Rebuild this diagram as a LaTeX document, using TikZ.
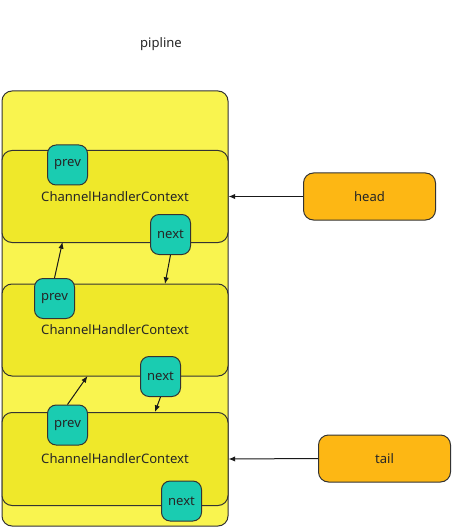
\documentclass[tikz,border=0pt]{standalone}
\usepackage{fontspec}
\setmainfont{Noto Sans}
\usetikzlibrary{arrows.meta}
\definecolor{outerY}{HTML}{F9F44F}
\definecolor{ctxY}{HTML}{EFE82A}
\definecolor{tealc}{HTML}{1ACCB1}
\definecolor{orangec}{HTML}{FDB714}
\definecolor{edgec}{HTML}{333333}
\begin{document}
\begin{tikzpicture}[x=0.75pt,y=-0.75pt,
  every node/.style={font=\fontsize{9.8}{11}\selectfont, text=black!85},
  outerbox/.style={draw=edgec, line width=0.75pt, fill=outerY, rounded corners=7.5pt},
  ctxbox/.style={draw=edgec, line width=0.75pt, fill=ctxY, rounded corners=7.5pt, minimum width=226*0.75pt, minimum height=92*0.75pt, inner sep=0pt},
  ptrbox/.style={draw=edgec, line width=0.75pt, fill=tealc, rounded corners=6.5pt, minimum width=40*0.75pt, minimum height=40*0.75pt, inner sep=0pt},
  endbox/.style={draw=edgec, line width=0.75pt, fill=orangec, rounded corners=7.5pt, minimum width=132*0.75pt, minimum height=47*0.75pt, inner sep=0pt},
  arr/.style={draw=black!90, line width=0.75pt, -{Latex[length=5pt,width=4pt]}}]
\useasboundingbox (0,0) rectangle (451,527);
\node (title) at (161,44) {pipline};
\draw[outerbox] (2,91) rectangle (228,526);
\node[ctxbox] (ctx1) at (115,196.5) {ChannelHandlerContext};
\node[ctxbox, minimum height=92*0.75pt] (ctx2) at (115,330) {ChannelHandlerContext};
\node[ctxbox, minimum height=93*0.75pt] (ctx3) at (115,459) {ChannelHandlerContext};
\node[ptrbox] (prev1) at (67.5,165) {prev};
\node[ptrbox] (next1) at (170.5,234.5) {next};
\node[ptrbox] (prev2) at (54.5,298.5) {prev};
\node[ptrbox] (next2) at (160.5,376.5) {next};
\node[ptrbox] (prev3) at (67.5,425) {prev};
\node[ptrbox] (next3) at (181.5,501) {next};
\node[endbox] (head) at (369.5,196.5) {head};
\node[endbox] (tail) at (384.5,458.5) {tail};
\coordinate (c2in) at (165,284);
\coordinate (c1in) at (62.5,242);
\coordinate (c3in) at (155,412);
\coordinate (c2in2) at (87.5,376);
\draw[arr] (head.west) -- (ctx1.east);
\draw[arr] (tail.west) -- (ctx3.east);
\draw[arr] (next1.south) -- (c2in);
\draw[arr] (prev2.north) -- (c1in);
\draw[arr] (next2.south) -- (c3in);
\draw[arr] (prev3.north) -- (c2in2);
\end{tikzpicture}
\end{document}
